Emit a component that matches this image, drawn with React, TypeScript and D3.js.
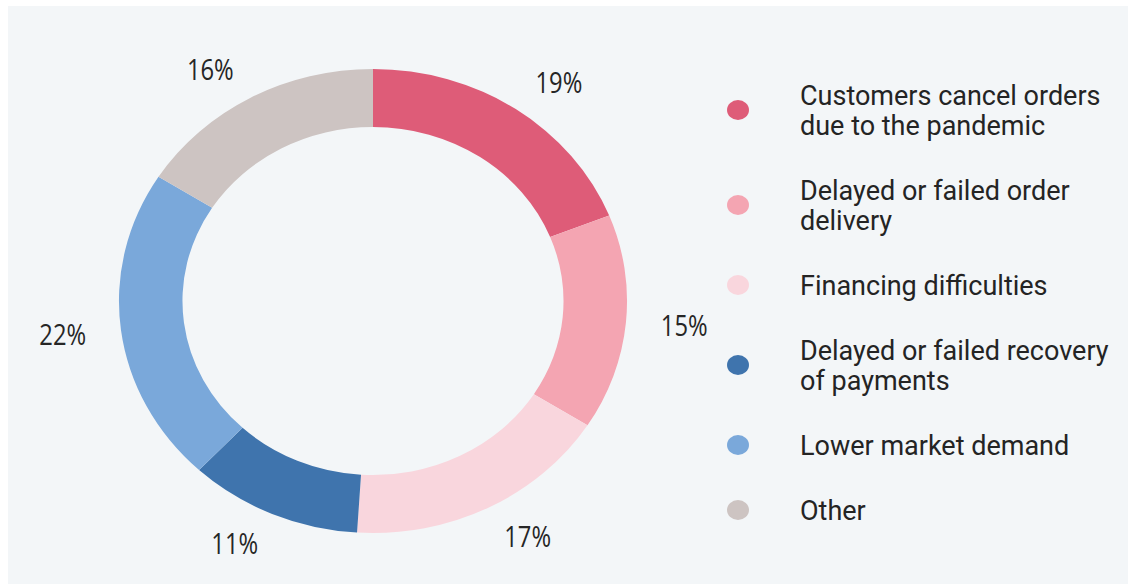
import React from 'react';
import * as d3 from 'd3';

// Doughnut of reasons, with a legend on the right
const categories = [
  'Customers cancel orders due to the pandemic',
  'Delayed or failed order delivery',
  'Financing difficulties',
  'Delayed or failed recovery of payments',
  'Lower market demand',
  'Other',
];
const legendLines = [
  ['Customers cancel orders', 'due to the pandemic'],
  ['Delayed or failed order', 'delivery'],
  ['Financing difficulties'],
  ['Delayed or failed recovery', 'of payments'],
  ['Lower market demand'],
  ['Other'],
];
const values = [19, 15, 17, 11, 22, 16];
const colors = ['#de5c78', '#f4a5b2', '#f9d6dd', '#3f74ad', '#7aa8da', '#cdc4c2'];

const W = 1128;
const H = 585;

export default function App() {
  const cx = 373;
  const cy = 301;
  const outer = 232;
  const inner = 174;
  const kx = 1.095; // picture is a little wider than tall
  const labelR = 264;

  const pie = d3.pie<number>().sort(null).value((d) => d);
  const arcs = pie(values);
  const arc = d3.arc<d3.PieArcDatum<number>>().innerRadius(inner).outerRadius(outer);

  const color = d3.scaleOrdinal<string, string>().domain(categories).range(colors);

  // legend layout: 30px lines, 35px between entries
  const lineH = 30;
  const gap = 35;
  let y = 105;
  const legend = legendLines.map((lines, i) => {
    const entry = { lines, y0: y, cat: categories[i] };
    y += lines.length * lineH + gap;
    return entry;
  });

  return (
    <svg
      width={W}
      height={H}
      viewBox={`0 0 ${W} ${H}`}
      style={{ position: 'absolute', left: 0, top: 0, display: 'block' }}
    >
      <rect x={0} y={0} width={W} height={H} fill="#ffffff" />
      <rect x={8} y={6} width={W - 8} height={H - 7} fill="#f3f6f8" />

      <g transform={`translate(${cx},${cy}) scale(${kx},1)`}>
        {arcs.map((a, i) => (
          <path key={i} d={arc(a) || ''} fill={color(categories[i])} />
        ))}
      </g>

      {arcs.map((a, i) => {
        const mid = (a.startAngle + a.endAngle) / 2;
        const s = Math.sin(mid);
        const x = cx + kx * labelR * s;
        const yy = cy - labelR * Math.cos(mid);
        const anchor = s > 0.1 ? 'start' : s < -0.1 ? 'end' : 'middle';
        return (
          <text
            key={i}
            transform={`translate(${x},${yy}) scale(0.82,1)`}
            textAnchor={anchor}
            dy="0.36em"
            fontFamily="'Open Sans', sans-serif"
            fontSize={29}
            fill="#262626"
          >
            {d3.format('.0f')(a.data)}%
          </text>
        );
      })}

      <g fontFamily="Roboto, sans-serif" fontSize={27} fill="#242424">
        {legend.map((e, i) => (
          <g key={i}>
            <ellipse
              cx={738}
              cy={e.y0 + ((e.lines.length - 1) * lineH) / 2 - 10}
              rx={11}
              ry={10}
              fill={color(e.cat)}
            />
            {e.lines.map((l, j) => (
              <text key={j} x={800} y={e.y0 + j * lineH}>
                {l}
              </text>
            ))}
          </g>
        ))}
      </g>
    </svg>
  );
}
